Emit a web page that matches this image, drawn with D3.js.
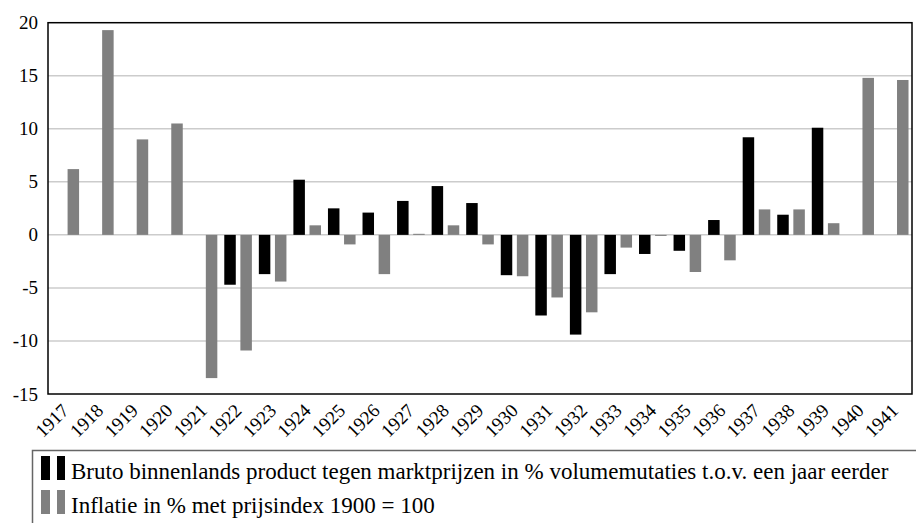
<!DOCTYPE html>
<html>
<head>
<meta charset="utf-8">
<script src="https://cdn.jsdelivr.net/npm/d3@7"></script>
</head>
<body style="margin:0">
<script>
// Jaren en reeksen
const years = d3.range(1917, 1942).map(String);
const bbp = [null, null, null, null, null, -4.7, -3.7, 5.2, 2.5, 2.1, 3.2, 4.6, 3.0,
             -3.8, -7.6, -9.4, -3.7, -1.8, -1.5, 1.4, 9.2, 1.9, 10.1, null, null];
const inflatie = [6.2, 19.3, 9.0, 10.5, -13.5, -10.9, -4.4, 0.9, -0.9, -3.7, 0.1, 0.9, -0.9,
                  -3.9, -5.9, -7.3, -1.2, -0.1, -3.5, -2.4, 2.4, 2.4, 1.1, 14.8, 14.6];
const yTicks = [-15, -10, -5, 0, 5, 10, 15, 20];
const seriesNames = [
    "Bruto binnenlands product tegen marktprijzen in % volumemutaties t.o.v. een jaar eerder",
    "Inflatie in % met prijsindex 1900 = 100"
];
const seriesKeys = ["bbp", "inflatie"];
const colors = { bbp: "#000000", inflatie: "#808080" };

const width = 916, height = 523;
const margin = { top: 22.7, right: 4, bottom: 129, left: 48 };
const serif = "Liberation Serif";

const svg = d3.select("body").append("svg")
    .attr("width", width)
    .attr("height", height);

// lettertype vooraf laden/meten
document.fonts.check("19px 'Liberation Serif'");
const probe = svg.append("text").attr("font-family", serif).attr("font-size", 22).text("1917");
probe.node().getComputedTextLength();
probe.remove();

const x0 = d3.scaleBand()
    .domain(years)
    .range([margin.left, width - margin.right])
    .padding(0);

const x1 = d3.scaleBand()
    .domain(seriesKeys)
    .range([0, x0.bandwidth()])
    .paddingInner(0.286)
    .paddingOuter(0.216);

const y = d3.scaleLinear()
    .domain([-15, 20])
    .range([height - margin.bottom, margin.top]);

// Rasterlijnen
svg.append("g")
    .selectAll("line")
    .data(yTicks.filter(d => d > -15 && d < 20))
    .join("line")
    .attr("x1", margin.left)
    .attr("x2", width - margin.right)
    .attr("y1", d => y(d))
    .attr("y2", d => y(d))
    .attr("stroke", "#cccccc")
    .attr("stroke-width", 1.5);

// Staven
const rows = years.map((yr, i) => ({ year: yr, bbp: bbp[i], inflatie: inflatie[i] }));

svg.append("g")
    .selectAll("g")
    .data(rows)
    .join("g")
    .attr("transform", d => `translate(${x0(d.year)},0)`)
    .selectAll("rect")
    .data(d => seriesKeys.filter(k => d[k] !== null).map(k => ({ key: k, value: d[k] })))
    .join("rect")
    .attr("x", d => x1(d.key))
    .attr("width", x1.bandwidth())
    .attr("y", d => y(Math.max(0, d.value)))
    .attr("height", d => Math.max(0.6, Math.abs(y(d.value) - y(0))))
    .attr("fill", d => colors[d.key]);

// Kader
svg.append("rect")
    .attr("x", margin.left)
    .attr("y", margin.top)
    .attr("width", width - margin.right - margin.left)
    .attr("height", y(-15) - margin.top)
    .attr("fill", "none")
    .attr("stroke", "#000")
    .attr("stroke-width", 1.5);

// Y-as labels
svg.append("g")
    .selectAll("text")
    .data(yTicks)
    .join("text")
    .attr("x", 38)
    .attr("y", d => y(d) + 6.5)
    .attr("text-anchor", "end")
    .attr("font-family", serif)
    .attr("font-size", 19)
    .text(d => d);

// X-as labels, schuin
svg.append("g")
    .selectAll("text")
    .data(years)
    .join("text")
    .attr("transform", d => `translate(${x0(d) + x0.bandwidth() / 2},${y(-15) + 13}) rotate(-45)`)
    .attr("text-anchor", "end")
    .attr("dy", "0.35em")
    .attr("font-family", serif)
    .attr("font-size", 19)
    .text(d => d);

// Legenda
svg.append("rect")
    .attr("x", 32.5)
    .attr("y", 450.5)
    .attr("width", 950)
    .attr("height", 120)
    .attr("fill", "#fff")
    .attr("stroke", "#666")
    .attr("stroke-width", 1.5);

seriesKeys.forEach((k, i) => {
    const top = 456 + i * 34;
    svg.append("rect").attr("x", 41).attr("y", top).attr("width", 9).attr("height", 24).attr("fill", colors[k]);
    svg.append("rect").attr("x", 57).attr("y", top).attr("width", 8).attr("height", 24).attr("fill", colors[k]);
    svg.append("text")
        .attr("class", "legend-label")
        .attr("x", 71)
        .attr("y", top + 23)
        .attr("font-family", serif)
        .attr("font-size", 22)
        .text(seriesNames[i]);
});

// lettergrootte zo kiezen dat de lange regel tot ~912px loopt
const labels = svg.selectAll("text.legend-label");
const len = labels.node().getComputedTextLength();
labels.attr("font-size", Math.min(23, 22 * 841 / len));
</script>
</body>
</html>
